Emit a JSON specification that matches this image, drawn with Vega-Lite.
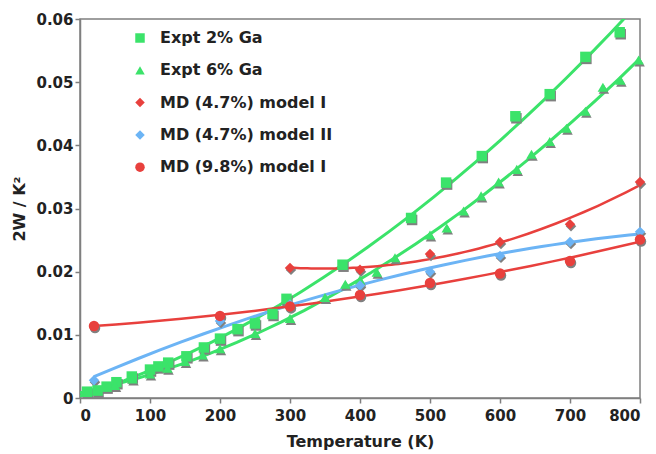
{
  "$schema": "https://vega.github.io/schema/vega-lite/v6.json",
  "width": 560,
  "height": 379,
  "autosize": {"type": "none"},
  "padding": {"left": 80, "top": 19, "right": 16, "bottom": 56},
  "background": "white",
  "config": {
    "view": {"stroke": "#7f7f7f", "strokeWidth": 1.5},
    "font": "DejaVu Sans",
    "axis": {
      "grid": false,
      "domainColor": "#7f7f7f",
      "domainWidth": 1.5,
      "tickColor": "#7f7f7f",
      "tickWidth": 1.5,
      "tickSize": 5,
      "labelFont": "DejaVu Sans",
      "labelFontWeight": "bold",
      "labelFontSize": 15,
      "labelColor": "#222222",
      "titleFont": "DejaVu Sans",
      "titleFontWeight": "bold",
      "titleFontSize": 16,
      "titleColor": "#222222"
    }
  },
  "datasets": {
    "pts": [
      {"series": "Expt 2% Ga", "T": 10, "W": 0.0010},
      {"series": "Expt 2% Ga", "T": 25, "W": 0.0012},
      {"series": "Expt 2% Ga", "T": 38, "W": 0.0018},
      {"series": "Expt 2% Ga", "T": 52, "W": 0.0025},
      {"series": "Expt 2% Ga", "T": 74, "W": 0.0034},
      {"series": "Expt 2% Ga", "T": 100, "W": 0.0045},
      {"series": "Expt 2% Ga", "T": 112, "W": 0.0050},
      {"series": "Expt 2% Ga", "T": 126, "W": 0.0056},
      {"series": "Expt 2% Ga", "T": 152, "W": 0.0066},
      {"series": "Expt 2% Ga", "T": 177, "W": 0.0080},
      {"series": "Expt 2% Ga", "T": 200, "W": 0.0094},
      {"series": "Expt 2% Ga", "T": 225, "W": 0.0109},
      {"series": "Expt 2% Ga", "T": 250, "W": 0.0118},
      {"series": "Expt 2% Ga", "T": 275, "W": 0.0133},
      {"series": "Expt 2% Ga", "T": 295, "W": 0.0157},
      {"series": "Expt 2% Ga", "T": 375, "W": 0.0211},
      {"series": "Expt 2% Ga", "T": 473, "W": 0.0285},
      {"series": "Expt 2% Ga", "T": 523, "W": 0.0341},
      {"series": "Expt 2% Ga", "T": 574, "W": 0.0383},
      {"series": "Expt 2% Ga", "T": 622, "W": 0.0446},
      {"series": "Expt 2% Ga", "T": 671, "W": 0.0481},
      {"series": "Expt 2% Ga", "T": 722, "W": 0.0540},
      {"series": "Expt 2% Ga", "T": 771, "W": 0.0579},
      {"series": "Expt 6% Ga", "T": 10, "W": 0.0009},
      {"series": "Expt 6% Ga", "T": 25, "W": 0.0011},
      {"series": "Expt 6% Ga", "T": 50, "W": 0.0020},
      {"series": "Expt 6% Ga", "T": 75, "W": 0.0030},
      {"series": "Expt 6% Ga", "T": 100, "W": 0.0038},
      {"series": "Expt 6% Ga", "T": 125, "W": 0.0047},
      {"series": "Expt 6% Ga", "T": 150, "W": 0.0058},
      {"series": "Expt 6% Ga", "T": 175, "W": 0.0068},
      {"series": "Expt 6% Ga", "T": 200, "W": 0.0078},
      {"series": "Expt 6% Ga", "T": 250, "W": 0.0102},
      {"series": "Expt 6% Ga", "T": 300, "W": 0.0126},
      {"series": "Expt 6% Ga", "T": 350, "W": 0.0159},
      {"series": "Expt 6% Ga", "T": 379, "W": 0.0180},
      {"series": "Expt 6% Ga", "T": 400, "W": 0.0187},
      {"series": "Expt 6% Ga", "T": 424, "W": 0.0199},
      {"series": "Expt 6% Ga", "T": 450, "W": 0.0222},
      {"series": "Expt 6% Ga", "T": 500, "W": 0.0258},
      {"series": "Expt 6% Ga", "T": 524, "W": 0.0269},
      {"series": "Expt 6% Ga", "T": 548, "W": 0.0296},
      {"series": "Expt 6% Ga", "T": 573, "W": 0.0320},
      {"series": "Expt 6% Ga", "T": 598, "W": 0.0342},
      {"series": "Expt 6% Ga", "T": 624, "W": 0.0362},
      {"series": "Expt 6% Ga", "T": 645, "W": 0.0386},
      {"series": "Expt 6% Ga", "T": 671, "W": 0.0406},
      {"series": "Expt 6% Ga", "T": 695, "W": 0.0427},
      {"series": "Expt 6% Ga", "T": 722, "W": 0.0454},
      {"series": "Expt 6% Ga", "T": 747, "W": 0.0492},
      {"series": "Expt 6% Ga", "T": 772, "W": 0.0503},
      {"series": "Expt 6% Ga", "T": 798, "W": 0.0535},
      {"series": "MD (4.7%) model I", "T": 300, "W": 0.0206},
      {"series": "MD (4.7%) model I", "T": 400, "W": 0.0203},
      {"series": "MD (4.7%) model I", "T": 500, "W": 0.0228},
      {"series": "MD (4.7%) model I", "T": 600, "W": 0.0247},
      {"series": "MD (4.7%) model I", "T": 700, "W": 0.0275},
      {"series": "MD (4.7%) model I", "T": 800, "W": 0.0342},
      {"series": "MD (4.7%) model II", "T": 20, "W": 0.0028},
      {"series": "MD (4.7%) model II", "T": 200, "W": 0.0122},
      {"series": "MD (4.7%) model II", "T": 300, "W": 0.0148},
      {"series": "MD (4.7%) model II", "T": 400, "W": 0.0178},
      {"series": "MD (4.7%) model II", "T": 500, "W": 0.0200},
      {"series": "MD (4.7%) model II", "T": 600, "W": 0.0225},
      {"series": "MD (4.7%) model II", "T": 700, "W": 0.0247},
      {"series": "MD (4.7%) model II", "T": 800, "W": 0.0263},
      {"series": "MD (9.8%) model I", "T": 20, "W": 0.0114},
      {"series": "MD (9.8%) model I", "T": 200, "W": 0.0130},
      {"series": "MD (9.8%) model I", "T": 300, "W": 0.0145},
      {"series": "MD (9.8%) model I", "T": 400, "W": 0.0163},
      {"series": "MD (9.8%) model I", "T": 500, "W": 0.0182},
      {"series": "MD (9.8%) model I", "T": 600, "W": 0.0197},
      {"series": "MD (9.8%) model I", "T": 700, "W": 0.0217},
      {"series": "MD (9.8%) model I", "T": 800, "W": 0.0251}
    ]
  },
  "data": {"name": "pts"},
  "encoding": {
    "x": {"field": "T", "type": "quantitative", "scale": {"domain": [0, 800], "nice": false}, "axis": {"values": [0,100,200,300,400,500,600,700,800], "title": "Temperature (K)", "titlePadding": 10, "labelPadding": 5}},
    "y": {"field": "W", "type": "quantitative", "scale": {"domain": [0, 0.06], "nice": false}, "axis": {"values": [0,0.01,0.02,0.03,0.04,0.05,0.06], "format": "~g", "title": "2W / K²", "titlePadding": 8, "labelPadding": 2}}
  },
  "layer": [
    {
      "transform": [{"filter": "datum.series == 'Expt 2% Ga'"}, {"regression": "W", "on": "T", "method": "poly", "order": 2, "extent": [0, 790]}],
      "mark": {"type": "line", "color": "#3be36a", "strokeWidth": 3, "clip": true}
    },
    {
      "transform": [{"filter": "datum.series == 'Expt 6% Ga'"}, {"regression": "W", "on": "T", "method": "poly", "order": 2, "extent": [0, 800]}],
      "mark": {"type": "line", "color": "#3be36a", "strokeWidth": 3, "clip": true}
    },
    {
      "transform": [{"filter": "datum.series == 'MD (4.7%) model I'"}, {"regression": "W", "on": "T", "method": "poly", "order": 2, "extent": [300, 800]}],
      "mark": {"type": "line", "color": "#e8403d", "strokeWidth": 2.5, "clip": true}
    },
    {
      "transform": [{"filter": "datum.series == 'MD (4.7%) model II'"}, {"regression": "W", "on": "T", "method": "poly", "order": 2, "extent": [20, 800]}],
      "mark": {"type": "line", "color": "#6cb4f5", "strokeWidth": 3, "clip": true}
    },
    {
      "transform": [{"filter": "datum.series == 'MD (9.8%) model I'"}, {"regression": "W", "on": "T", "method": "poly", "order": 2, "extent": [20, 800]}],
      "mark": {"type": "line", "color": "#e8403d", "strokeWidth": 2.5, "clip": true}
    },
    {
      "mark": {"type": "point", "filled": true, "opacity": 1, "color": "#808080", "xOffset": 1, "yOffset": 2},
      "encoding": {
        "shape": {"field": "series", "type": "nominal", "title": null, "scale": {"domain": ["Expt 2% Ga", "Expt 6% Ga", "MD (4.7%) model I", "MD (4.7%) model II", "MD (9.8%) model I"], "range": ["square", "triangle-up", "diamond", "diamond", "circle"]}},
        "size": {"value": 110}
      }
    },
    {
      "mark": {"type": "point", "filled": true, "opacity": 1},
      "encoding": {
        "color": {"field": "series", "type": "nominal", "title": null, "scale": {"domain": ["Expt 2% Ga", "Expt 6% Ga", "MD (4.7%) model I", "MD (4.7%) model II", "MD (9.8%) model I"], "range": ["#3be36a", "#3be36a", "#e8403d", "#6cb4f5", "#e8403d"]},
          "legend": {"orient": "none", "legendX": 52, "legendY": 11, "labelFont": "DejaVu Sans", "labelFontWeight": "bold", "labelFontSize": 16, "labelColor": "#222222", "labelOffset": 12, "labelLimit": 400, "rowPadding": 16.3, "symbolSize": 90, "symbolStrokeWidth": 0}},
        "shape": {"field": "series", "type": "nominal", "title": null, "scale": {"domain": ["Expt 2% Ga", "Expt 6% Ga", "MD (4.7%) model I", "MD (4.7%) model II", "MD (9.8%) model I"], "range": ["square", "triangle-up", "diamond", "diamond", "circle"]},
          "legend": {"orient": "none", "legendX": 52, "legendY": 11, "labelFont": "DejaVu Sans", "labelFontWeight": "bold", "labelFontSize": 16, "labelColor": "#222222", "labelOffset": 12, "labelLimit": 400, "rowPadding": 16.3, "symbolSize": 90, "symbolStrokeWidth": 0}},
        "size": {"value": 110}
      }
    }
  ]
}
